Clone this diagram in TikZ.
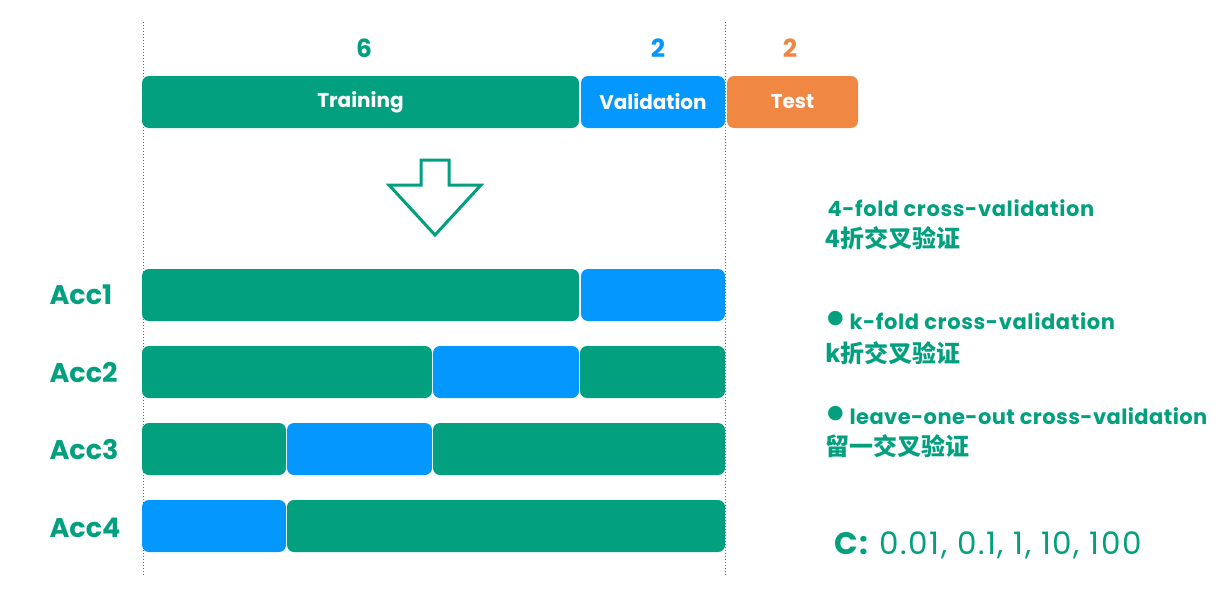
\documentclass[tikz,border=0pt]{standalone}
\usepackage{fontspec}
\setmainfont{Poppins}
\newfontfamily\cjk{Noto Sans CJK SC}
\newfontfamily\symf{DejaVu Sans}
\definecolor{tgreen}{HTML}{03A07F}
\definecolor{tblue}{HTML}{0497FD}
\definecolor{torange}{HTML}{F08844}
\begin{document}
\begin{tikzpicture}[x=1pt,y=-1pt,
  seg/.style={rounded corners=7pt, inner sep=0pt, outer sep=0pt, anchor=north west,
    minimum height=52pt, text=white, font=\bfseries\fontsize{20}{20}\selectfont},
  gseg/.style={seg, fill=tgreen},
  bseg/.style={seg, fill=tblue},
  oseg/.style={seg, fill=torange},
  acc/.style={anchor=west, text=tgreen, font=\bfseries\fontsize{27}{27}\selectfont},
  num/.style={font=\bfseries\fontsize{25}{25}\selectfont},
  note/.style={anchor=west, text=tgreen, font=\bfseries\fontsize{21}{21}\selectfont\addfontfeatures{LetterSpace=3}},
  cnote/.style={anchor=west, text=tgreen, font=\cjk\bfseries\fontsize{24}{24}\selectfont},
  bul/.style={anchor=west, text=tgreen, font=\symf\fontsize{19}{19}\selectfont, inner sep=0pt},
  guide/.style={tgreen, dotted, line width=1pt}]
\useasboundingbox (0,0) rectangle (1221,589);
\coordinate (g1t) at (143,22); \coordinate (g1b) at (143,575);
\coordinate (g2t) at (725,22); \coordinate (g2b) at (725,575);
\draw[guide] (g1t) -- (g1b);
\draw[guide] (g2t) -- (g2b);
% top split
\node[num, text=tgreen] (n6) at (364,48) {6};
\node[num, text=tblue] (n2a) at (658,48) {2};
\node[num, text=torange] (n2b) at (790,48) {2};
\node[gseg, minimum width=437pt] (train) at (142,76) {Training};
\node[bseg, minimum width=144pt] (val) at (581,76) {Validation};
\node[oseg, minimum width=131pt] (test) at (727,76) {Test};
% arrow
\draw[tgreen, line width=3pt, fill=white, line join=miter]
  (421,160) -- (449,160) -- (449,185) -- (481,185) -- (435,235) -- (389,185) -- (421,185) -- cycle;
% folds
\node[acc] (a1) at (46,295) {Acc1};
\node[acc] (a2) at (46,373) {Acc2};
\node[acc] (a3) at (46,450) {Acc3};
\node[acc] (a4) at (46,528) {Acc4};
\node[gseg, minimum width=437pt] (r1a) at (142,269) {};
\node[bseg, minimum width=144pt] (r1b) at (581,269) {};
\node[gseg, minimum width=290pt] (r2a) at (142,346) {};
\node[bseg, minimum width=146pt] (r2b) at (433,346) {};
\node[gseg, minimum width=145pt] (r2c) at (580,346) {};
\node[gseg, minimum width=144pt] (r3a) at (142,423) {};
\node[bseg, minimum width=145pt] (r3b) at (287,423) {};
\node[gseg, minimum width=292pt] (r3c) at (433,423) {};
\node[bseg, minimum width=144pt] (r4a) at (142,500) {};
\node[gseg, minimum width=438pt] (r4b) at (287,500) {};
% notes
\node[note] (t1) at (824,208) {4-fold cross-validation};
\node[cnote] (t1c) at (822,238) {4折交叉验证};
\node[bul] (b2) at (827,319) {●};
\node[note] (t2) at (846,321) {k-fold cross-validation};
\node[cnote] (t2c) at (822,353) {k折交叉验证};
\node[bul] (b3) at (827,414) {●};
\node[note, font=\bfseries\fontsize{21}{21}\selectfont\addfontfeatures{LetterSpace=2}] (t3) at (846,416) {leave-one-out cross-validation};
\node[cnote] (t3c) at (822,446) {留一交叉验证};
\node[anchor=west, text=tgreen, font=\fontsize{31}{31}\selectfont\addfontfeatures{LetterSpace=5}] (cvals) at (831,545) {\textbf{C:} 0.01, 0.1, 1, 10, 100};
\end{tikzpicture}
\end{document}
